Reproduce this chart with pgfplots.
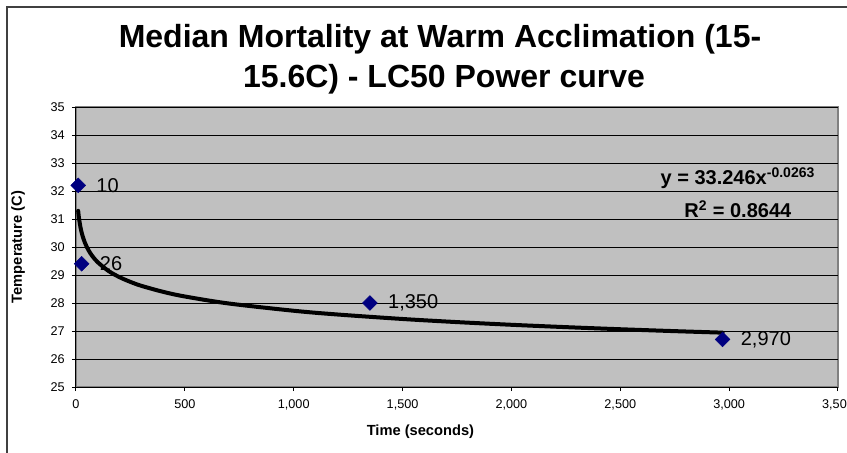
\documentclass[border=0pt]{standalone}
\usepackage{fontspec}
\setmainfont{Liberation Sans}
\usepackage{pgfplots}
\pgfplotsset{compat=1.18}
\definecolor{plotgray}{HTML}{C0C0C0}
\definecolor{bordergray}{HTML}{808080}
\definecolor{navy}{HTML}{000080}
\begin{document}
\begin{tikzpicture}
\path[use as bounding box] (0pt,0pt) rectangle (635.25pt,-339.75pt);
\clip (0pt,0pt) rectangle (635.25pt,-339.75pt);
\fill[white] (0pt,0pt) rectangle (635.25pt,-339.75pt);
\draw[black!75, line width=1pt] (5.25pt,-5.25pt) rectangle (700pt,-400pt);
% title
\node[anchor=base, font=\fontsize{24}{28}\selectfont\bfseries] at (330pt,-36pt) {Median Mortality at Warm Acclimation (15-};
\node[anchor=base, font=\fontsize{24}{28}\selectfont\bfseries] at (333pt,-66pt) {15.6C) - LC50 Power curve};
\begin{axis}[
  at={(57pt,-290.25pt)}, anchor=south west,
  scale only axis, width=571.5pt, height=210pt,
  xmin=0, xmax=3500, ymin=25, ymax=35,
  axis x line*=bottom, axis y line*=left,
  axis line style={black, line width=0.75pt},
  axis background/.style={fill=plotgray, draw=bordergray, line width=1.2pt},
  xtick={0,500,...,3500}, ytick={25,26,...,35},
  ymajorgrids, grid style={black, line width=0.75pt},
  tick align=outside, major tick length=3pt,
  tick style={black, line width=0.75pt},
  /pgf/number format/assume math mode=true,
  /pgf/number format/1000 sep={,},
  ticklabel style={font=\fontsize{9.5}{11}\selectfont},
  xticklabel style={yshift=-3pt},
  yticklabel style={xshift=-2pt},
  xlabel={Time (seconds)}, ylabel={Temperature (C)},
  every axis x label/.style={at={(axis description cs:0.452,0)}, anchor=base, yshift=-36pt, font=\fontsize{11}{13}\selectfont\bfseries},
  every axis y label/.style={at={(axis description cs:-0.0761,0.5)}, rotate=90, anchor=center, font=\fontsize{11}{13}\selectfont\bfseries},
  clip=false,
]
\addplot[black, line width=3pt, smooth, line cap=round] table[x=x, y=y] {
x y
10 31.292
12 31.143
15 30.961
20 30.727
25 30.547
30 30.401
40 30.172
50 29.995
60 29.852
75 29.677
100 29.454
150 29.141
200 28.922
250 28.753
300 28.614
400 28.399
500 28.233
700 27.984
1000 27.723
1200 27.590
1500 27.429
1750 27.318
2000 27.222
2250 27.138
2500 27.063
2750 26.995
2970 26.941
};
\addplot[only marks, mark=square*, mark size=3.9pt, mark options={rotate=45, fill=navy, draw=navy},
  nodes near coords, point meta=explicit symbolic,
  every node near coord/.style={anchor=west, inner sep=0pt, xshift=13.5pt, font=\fontsize{15}{17}\selectfont, text=black}]
  table[x=x, y=y, meta=label] {
x y label
10 32.2 10
26 29.4 26
1350 28.0 {1,350}
2970 26.7 {2,970}
};
\node[anchor=base, font=\fontsize{15}{17}\selectfont\bfseries] at (axis cs:3040,32.24) {y = 33.246x\textsuperscript{-0.0263}};
\node[anchor=base, font=\fontsize{15}{17}\selectfont\bfseries] at (axis cs:3040,31.04) {R\textsuperscript{2} = 0.8644};
\end{axis}
\end{tikzpicture}
\end{document}
